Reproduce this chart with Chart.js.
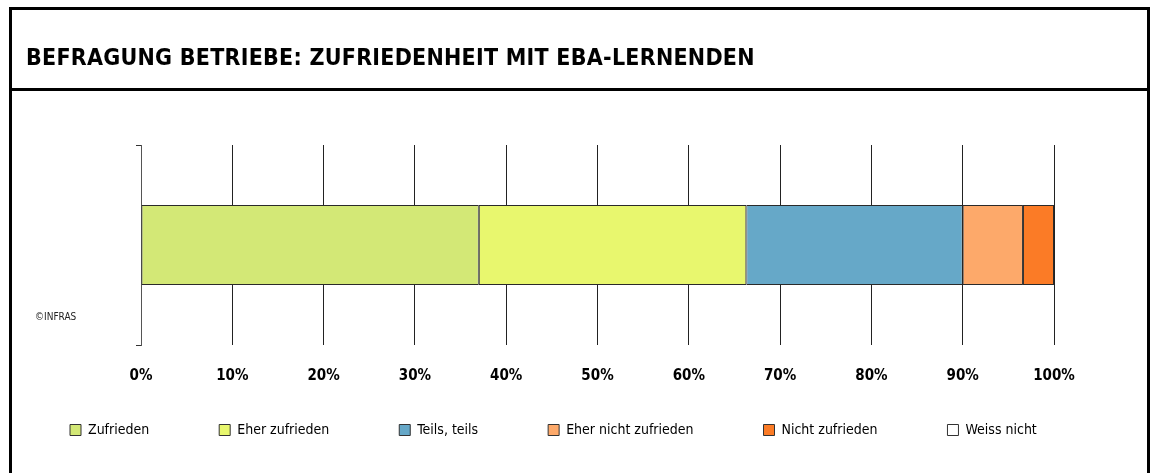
<!DOCTYPE html>
<html lang="de">
<head>
    <meta charset="UTF-8">
    <title>Befragung Betriebe: Zufriedenheit mit EBA-Lernenden</title>
    <script src="https://cdn.jsdelivr.net/npm/chart.js"></script>
    <style>
        html, body { margin: 0; padding: 0; background: #fff; }
        body { width: 1153px; height: 473px; position: relative; overflow: hidden;
               font-family: 'DejaVu Sans Condensed', 'Liberation Sans Narrow', 'DejaVu Sans', sans-serif; }
        #grafico { position: absolute; left: 0; top: 0; }
        .rahmen { position: absolute; left: 9px; top: 7px; width: 1135px; height: 500px;
                  border: 3px solid #000; pointer-events: none; }
        .titel { position: absolute; left: 12px; top: 10px; width: 1135px; height: 81px;
                 border-bottom: 3px solid #000; box-sizing: border-box;
                 font-weight: bold; font-size: 23px; line-height: 62px; letter-spacing: 0.25px;
                 padding: 16px 0 0 14px; color: #000; overflow: hidden; }
        .quelle { position: absolute; left: 35px; top: 311px; font-size: 10px; color: #222; }
    </style>
</head>
<body>
<canvas id="grafico" width="1153" height="473"></canvas>
<div class="rahmen"></div>
<div class="titel">BEFRAGUNG BETRIEBE: ZUFRIEDENHEIT MIT EBA-LERNENDEN</div>
<div class="quelle">©INFRAS</div>

<script>
    // Daten (Anteile in %)
    const kategorien = [''];
    const antworten = ['Zufrieden', 'Eher zufrieden', 'Teils, teils', 'Eher nicht zufrieden', 'Nicht zufrieden', 'Weiss nicht'];
    const anteile = [37.0, 29.3, 23.7, 6.6, 3.4, 0];
    const farben = ['#d3e876', '#e8f76e', '#66a8c8', '#fda96a', '#fb7b26', '#ffffff'];
    const achsenTicks = [0, 10, 20, 30, 40, 50, 60, 70, 80, 90, 100];

    const schrift = "'DejaVu Sans Condensed', 'Liberation Sans Narrow', 'DejaVu Sans', sans-serif";
    Chart.defaults.font.family = schrift;
    Chart.defaults.color = '#000';

    // x-Achse ist nur 8px hoch (Legende braucht den Platz), Beschriftung darf trotzdem darunter stehen
    const achseFreigeben = {
        id: 'achseFreigeben',
        afterLayout(chart) { chart.scales.x.bottom = chart.height; }
    };

    const ctx = document.getElementById('grafico').getContext('2d');
    new Chart(ctx, {
        type: 'bar',
        data: {
            labels: kategorien,
            datasets: antworten.map((name, i) => ({
                label: name,
                data: [anteile[i]],
                backgroundColor: farben[i],
                borderColor: '#2a2a2a',
                borderWidth: i === antworten.length - 1 ? 0 : 1,
                borderSkipped: false,
                categoryPercentage: 0.4,
                barPercentage: 1.0
            }))
        },
        options: {
            indexAxis: 'y',
            responsive: false,
            animation: false,
            layout: { padding: { top: 145, left: 0, right: 0, bottom: 26 } },
            plugins: {
                tooltip: { enabled: false },
                legend: {
                    position: 'bottom',
                    align: 'start',
                    labels: {
                        boxWidth: 11,
                        boxHeight: 11,
                        padding: 70,
                        font: { size: 14 },
                        color: '#111',
                        generateLabels: (chart) => chart.data.datasets.map((ds, i) => ({
                            text: ds.label,
                            fillStyle: ds.backgroundColor,
                            strokeStyle: '#333',
                            lineWidth: 1,
                            datasetIndex: i
                        }))
                    }
                }
            },
            scales: {
                x: {
                    stacked: true,
                    min: 0,
                    max: 100,
                    afterBuildTicks: (scale) => { scale.ticks = achsenTicks.map(v => ({ value: v })); },
                    afterFit: (scale) => { scale.height = 8; },
                    ticks: {
                        padding: 22,
                        font: { size: 15, weight: 'bold' },
                        color: '#000',
                        maxRotation: 0,
                        autoSkip: false,
                        callback: (v) => v + '%'
                    },
                    grid: { color: '#222', lineWidth: 1, drawTicks: false },
                    border: { display: false }
                },
                y: {
                    stacked: true,
                    afterFit: (scale) => { scale.width = 141; },
                    ticks: { display: false },
                    grid: { offset: true, drawOnChartArea: false, drawTicks: true, tickLength: 5, color: '#333' },
                    border: { display: true, color: '#555', width: 1 }
                },
                rechts: {
                    type: 'linear',
                    position: 'right',
                    afterFit: (scale) => { scale.width = 99; },
                    ticks: { display: false },
                    grid: { display: false },
                    border: { display: false }
                }
            }
        },
        plugins: [achseFreigeben]
    });
</script>
</body>
</html>
